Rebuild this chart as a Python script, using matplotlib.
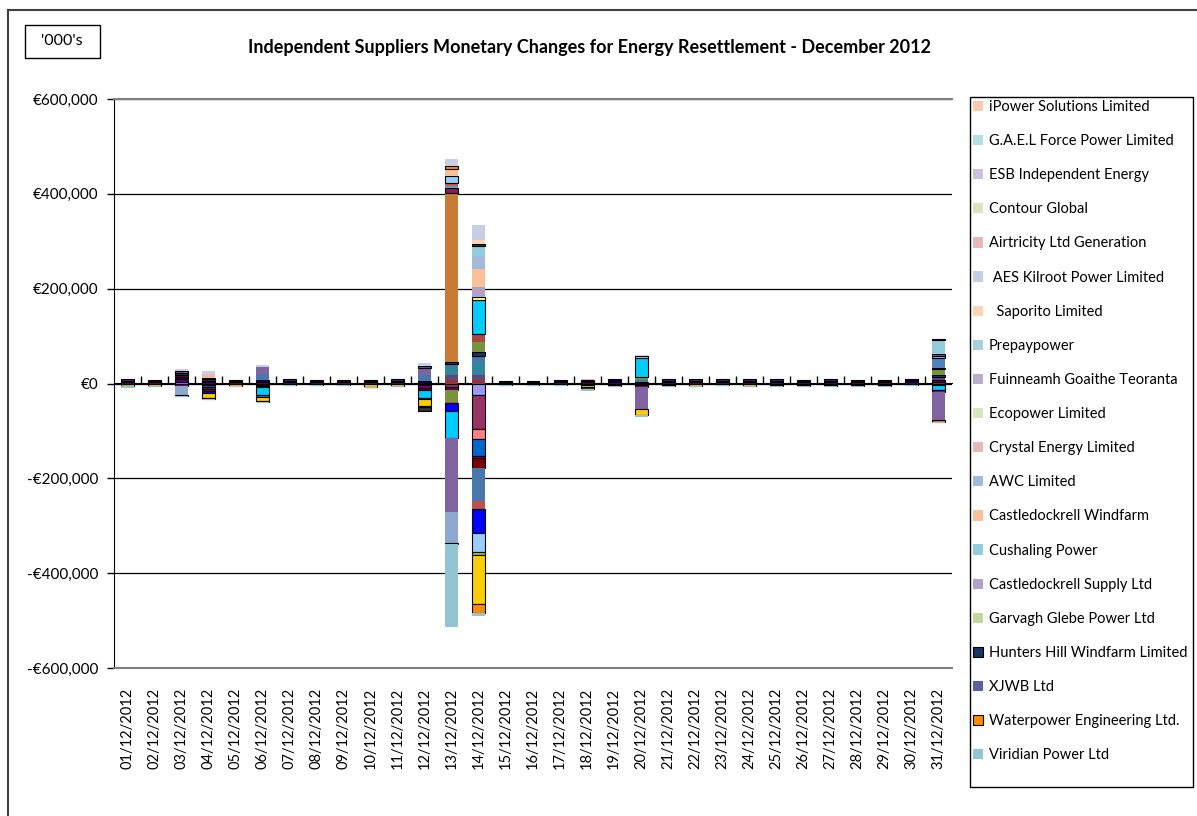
import matplotlib.pyplot as plt
import numpy as np
from matplotlib.patches import Rectangle
from matplotlib.lines import Line2D

plt.rcParams['font.family'] = ['Lato', 'DejaVu Sans']

days = ["%02d/12/2012" % d for d in range(1, 32)]

# values in thousands of euro, one list per series, stacked from zero outwards
#            01..10                          11..20                              21..31
lav9999    = [0, 0, 4, 0, 0, 0, 0, 0, 0, 0,   0, 0, -2, -25, 0, 0, 0, 0, 0, 0,   0, 0, 0, 0, 0, 0, 0, 0, 0, 0, 0]
rasp       = [0, 0, -2, -4, 0, -3, 0, 0, 0, 0,   0, 0, -5, -72, 0, 0, 0, 0, 0, -3,   0, 0, 0, 0, 0, 0, 0, 0, 0, 0, 3]
plum       = [3, 3, 5, 3, 3, 4, 3, 3, 3, 3,   3, 2, -7, 0, 2, 2, 3, 3, 3, 2,   3, 3, 3, 3, 3, 3, 3, 3, 3, 3, 5]
navy       = [3, 3, 5, 3, 3, 4, 3, 2, 2, 3,   3, 3, 0, 0, 2, 2, 2, 3, 4, 2,   3, 3, 3, 3, 3, 3, 3, 3, 3, 4, 0]
maroon     = [0, 0, 0, 0, 0, 0, 0, 0, 0, 0,   0, 0, 7, 8, 0, 0, 0, 0, 0, 0,   0, 0, 0, 0, 0, 0, 0, 0, 0, 0, 0]
dpurple    = [0, 0, 0, 0, 0, 0, 0, 0, 0, 0,   0, 0, 10, 9, 0, 0, 0, 0, 0, 0,   0, 0, 0, 0, 0, 0, 0, 0, 0, 0, 5]
pink       = [0, 0, 0, 0, 0, 0, 0, 0, 0, 0,   0, 0, 0, -21, 0, 0, 0, 0, 0, 0,   0, 0, 0, 0, 0, 0, 0, 0, 0, 0, 0]
midblue    = [0, 0, 0, -4, 0, 0, 0, 0, 0, 0,   0, -4, 0, -35, 0, 0, 0, 0, 0, 0,   0, 0, 0, 0, 0, 0, 0, 0, 0, 0, 0]
violet     = [0, 0, -3, -4, 0, -2, 0, 0, 0, 0,   0, -5, 0, -5, 0, 0, 0, -4, -1, -4,   -3, -2, 0, -2, -3, -3, -3, -3, -3, 0, -3]
darkred    = [0, 0, 4, -4, 0, 0, 0, 0, 0, 0,   0, -5, 0, -21, 0, 0, 0, 0, 0, 0,   -3, 0, 0, 0, -3, -3, -3, -2, -2, 0, 0]
teal       = [0, 0, 0, 0, 0, 0, 0, 0, 0, 0,   0, 0, 18, 28, 0, 0, 0, 0, 0, 0,   0, 0, 0, 0, 0, 0, 0, 0, 0, 0, 0]
steel      = [0, 0, 0, 0, 0, 12, 0, 0, 0, 0,   0, 13, 7, 14, 0, 0, 0, 0, 0, 4,   0, 0, 0, 0, 0, 0, 0, 0, 0, 0, 0]
steel_b    = [0, 0, 0, 0, 0, 0, 0, 0, 0, 0,   0, 0, 0, -68, 0, 0, 0, 0, 0, 0,   0, 0, 0, 0, 0, 0, 0, 0, 0, 0, 0]
hunters    = [3, 2, 5, 3, 2, 0, 3, 2, 2, 2,   3, 0, 4, 7, 2, 2, 2, 2, 3, 0,   3, 3, 3, 3, 3, 2, 3, 2, 2, 3, 4]
olive      = [0, 0, 0, 0, 0, 0, 0, 0, 0, 0,   0, 0, -24, 22, 0, 0, 0, 0, 0, 5,   0, 0, 0, 0, 0, 0, 0, 0, 0, 0, 13]
redbrown   = [0, 0, 0, 0, 0, 0, 0, 0, 0, 0,   0, 0, -4, -18, 0, 0, 0, 0, 0, 0,   0, 0, 0, 0, 0, 0, 0, 0, 0, 0, 0]
brick      = [0, 0, 0, 0, 0, 0, 0, 0, 0, 0,   0, 0, 0, 16, 0, 0, 0, 0, 0, 0,   0, 0, 0, 0, 0, 0, 0, 0, 0, 0, 0]
blue       = [0, 0, 0, -3, 0, -2, 0, 0, 0, 0,   0, 0, -17, -50, 0, 0, 0, 0, 0, 0,   0, 0, 0, 0, 0, 0, 0, 0, 0, 0, 3]
cyan       = [0, 0, 0, 2, 0, -17, 0, 0, 0, 0,   0, -17, -56, 72, 0, 0, 0, 0, 0, 40,   0, 0, 0, 0, 0, 0, 0, 0, 0, 0, -11]
steel2     = [0, 0, 0, 0, 0, 0, 0, 0, 0, 0,   0, 0, 0, 0, 0, 0, 0, 0, 0, 0,   0, 0, 0, 0, 0, 0, 0, 0, 0, 0, 20]
orange     = [0, 0, 0, 0, 0, 0, 0, 0, 0, 0,   0, 0, 355, 0, 0, 0, 0, 0, 0, 0,   0, 0, 0, 0, 0, 0, 0, 0, 0, 0, 0]
magenta    = [0, 0, 0, 0, 0, 0, 0, 0, 0, 0,   0, 0, 12, 0, 0, 0, 0, 0, 0, 0,   0, 0, 0, 0, 0, 0, 0, 0, 0, 0, -3]
teal2      = [0, 0, 0, 0, 0, 0, 0, 0, 0, 0,   0, 0, 4, 0, 0, 0, 0, 0, 0, 0,   0, 0, 0, 0, 0, 0, 0, 0, 0, 0, 0]
red2       = [0, 0, 0, 0, 0, 0, 0, 0, 0, 0,   0, 0, 5, 0, 0, 0, 0, 0, 0, 0,   0, 0, 0, 0, 0, 0, 0, 0, 0, 0, 0]
skyblue    = [0, 0, 0, 0, 0, 0, 0, 0, 0, 0,   0, 0, 15, -41, 0, 0, 0, 0, 0, 4,   0, 0, 0, 0, 0, 0, 0, 0, 0, 0, 6]
paleyellow = [0, 0, 0, 0, 0, 0, 0, 0, 0, 0,   0, 0, 0, 7, 0, 0, 0, 0, 0, 0,   0, 0, 0, 0, 0, 0, 0, 0, 0, 0, 0]
purple     = [0, 0, 0, 0, 0, 15, 0, 0, 0, 0,   0, 14, -157, 0, 0, 0, 0, 0, 0, -47,   0, 0, 0, 0, 0, 0, 0, 0, 0, 0, -61]
periwinkle = [0, 0, -20, 0, 0, 0, 0, 0, 0, 0,   0, 0, -65, 0, 0, 0, 0, 0, 0, 0,   0, 0, 0, 0, 0, 0, 0, 0, 0, 0, 0]
xjwb       = [0, 0, 4, 0, 0, -5, 0, 0, 0, 0,   0, 4, -2, 0, 0, 0, 0, 0, 0, 0,   0, 0, 0, 0, 0, 0, 0, 0, 0, 0, 3]
lime       = [0, 0, 0, 0, 0, 0, 0, 0, 0, 0,   0, -2, 0, -5, 0, 0, 0, 0, 0, 0,   0, 0, 0, 0, 0, 0, 0, 0, 0, 0, 0]
gold       = [-5, -5, 0, -12, -5, -8, -3, -4, -4, -7,   -5, -14, 0, -104, -3, -3, -4, -4, -3, -13,   0, -3, -4, -3, 0, 0, 0, 0, 0, -3, 0]
cd_supply  = [0, 0, 0, 0, 0, 0, 0, 0, 0, 0,   0, 0, 0, 20, 0, 0, 0, 0, 0, 0,   0, 0, 0, 0, 0, 0, 0, 0, 0, 0, 0]
cd_wind    = [0, 0, 0, 3, 0, 0, 0, 0, 0, 0,   0, 0, 15, 39, 0, 0, 0, 0, 0, 0,   0, 0, 0, 0, 0, 0, 0, 0, 0, 0, 0]
waterpower = [-1, 0, -1, -2, 0, -1, 0, 0, 0, -1,   0, -2, 6, -20, 0, 0, 0, 0, -1, 0,   0, 0, 0, 0, 0, 0, 0, 0, 0, 0, -3]
awc        = [0, 0, 0, 0, 0, 0, 0, 0, 0, 0,   0, 0, 0, 26, 0, 0, 0, 0, 0, 0,   0, 0, 0, 0, 0, 0, 0, 0, 0, 0, 0]
cushaling  = [0, 0, 0, 0, 0, 0, 0, 0, 0, 0,   0, 0, 0, 23, 0, 0, 0, 0, 0, 0,   0, 0, 0, 0, 0, 0, 0, 0, 0, 0, 30]
charcoal   = [0, 0, 0, 0, 0, 0, 0, 0, 0, 0,   0, -8, 0, 3, 0, 0, 0, -4, 0, 0,   0, 0, 0, 0, 0, 0, 0, 0, 0, 0, 2]
saporito   = [0, 0, 0, 0, 0, 0, 0, 0, 0, 0,   0, 0, 0, 8, 0, 0, 0, 0, 0, 0,   0, 0, 0, 0, 0, 0, 0, 0, 0, 0, 0]
airtricity = [0, 0, 0, 5, -2, 0, 0, 0, 0, 0,   0, 0, 0, 0, 0, 0, 0, 2, 0, 0,   0, 0, 0, 0, 0, 0, 0, 0, 0, 0, 0]
aes        = [0, 0, 4, 7, 0, 3, 0, 0, 0, 0,   0, 8, 16, 33, 0, 0, 0, 0, 0, 3,   0, 0, 0, 0, 0, 0, 0, 0, 0, 0, 0]
viridian   = [-3, -2, -2, -2, 0, -3, -2, -2, -2, -2,   -2, -2, -175, -5, -2, -2, -2, -4, -2, -4,   -2, -2, -2, -2, -2, -2, -2, -2, -2, -2, -3]
no_change  = [0, 0, 0, 0, 0, 0, 0, 0, 0, 0,   0, 0, 0, 0, 0, 0, 0, 0, 0, 0,   0, 0, 0, 0, 0, 0, 0, 0, 0, 0, 0]

# (label, colour, black border, values) in stacking order
series = [
    (None, '#9999FF', True, lav9999),
    (None, '#993366', True, rasp),
    (None, '#660066', True, plum),
    (None, '#000080', True, navy),
    (None, '#953735', False, maroon),
    (None, '#5F497A', False, dpurple),
    (None, '#FF8080', True, pink),
    (None, '#0066CC', True, midblue),
    (None, '#800080', True, violet),
    (None, '#800000', True, darkred),
    (None, '#31859C', False, teal),
    (None, '#4A76AE', False, steel),
    (None, '#4A76AE', False, steel_b),
    ('Hunters Hill Windfarm Limited', '#17375E', True, hunters),
    (None, '#77933C', False, olive),
    (None, '#C0504D', False, redbrown),
    (None, '#A8463F', False, brick),
    (None, '#0000FF', True, blue),
    (None, '#00CCFF', True, cyan),
    (None, '#4F81BD', False, steel2),
    (None, '#C87B35', False, orange),
    (None, '#8B1A5E', True, magenta),
    (None, '#4BACC6', False, teal2),
    (None, '#D9534F', False, red2),
    (None, '#99CCFF', True, skyblue),
    (None, '#FFFF99', True, paleyellow),
    (None, '#8064A2', False, purple),
    (None, '#8EA9D0', False, periwinkle),
    ('XJWB Ltd', '#5F5F9F', True, xjwb),
    (None, '#99CC00', True, lime),
    (None, '#FFCC00', True, gold),
    ('Castledockrell Supply Ltd', '#B3A2C7', False, cd_supply),
    ('Castledockrell Windfarm', '#FAC09A', False, cd_wind),
    ('Waterpower Engineering Ltd.', '#FF8C00', True, waterpower),
    ('AWC Limited', '#A3BADB', False, awc),
    ('Cushaling Power', '#92CDDC', False, cushaling),
    (None, '#333333', True, charcoal),
    ('  Saporito Limited', '#FCD5B4', False, saporito),
    ('Airtricity Ltd Generation', '#E6B9B8', False, airtricity),
    (' AES Kilroot Power Limited', '#C5D0E6', False, aes),
    ('iPower Solutions Limited', '#F8CBAD', False, no_change),
    ('G.A.E.L Force Power Limited', '#B7DEE8', False, no_change),
    ('ESB Independent Energy', '#CCC0DA', False, no_change),
    ('Contour Global', '#D7E4BD', False, no_change),
    ('Prepaypower', '#A8CFDC', False, no_change),
    ('Fuinneamh Goaithe Teoranta', '#B9ADCE', False, no_change),
    ('Ecopower Limited', '#D7E4BD', False, no_change),
    ('Crystal Energy Limited', '#E6B9B8', False, no_change),
    ('Garvagh Glebe Power Ltd', '#C4D79B', False, no_change),
    ('Viridian Power Ltd', '#93C4D4', False, viridian),
]

legend_order = ['iPower Solutions Limited', 'G.A.E.L Force Power Limited', 'ESB Independent Energy',
                'Contour Global', 'Airtricity Ltd Generation', ' AES Kilroot Power Limited',
                '  Saporito Limited', 'Prepaypower', 'Fuinneamh Goaithe Teoranta', 'Ecopower Limited',
                'Crystal Energy Limited', 'AWC Limited', 'Castledockrell Windfarm', 'Cushaling Power',
                'Castledockrell Supply Ltd', 'Garvagh Glebe Power Ltd', 'Hunters Hill Windfarm Limited',
                'XJWB Ltd', 'Waterpower Engineering Ltd.', 'Viridian Power Ltd']

W, H = 1197, 816
fig = plt.figure(figsize=(W / 100, H / 100), dpi=100)
ax = fig.add_axes([114 / W, 1 - 668 / H, (952 - 114) / W, (668 - 99) / H])

x = np.arange(len(days))
pos_base = np.zeros(len(days))
neg_base = np.zeros(len(days))
handles = {}
for label, color, edged, vals in series:
    v = np.array(vals, dtype=float) * 1000
    bottom = np.where(v >= 0, pos_base, neg_base)
    lw = np.where(v != 0, 0.8, 0) if edged else 0
    bars = ax.bar(x, v, width=0.48, bottom=bottom, color=color,
                  edgecolor='black' if edged else 'none', linewidth=lw, zorder=3)
    pos_base += np.clip(v, 0, None)
    neg_base += np.clip(v, None, 0)
    if label:
        handles[label] = bars

ax.set_xlim(-0.5, len(days) - 0.5)
ax.set_ylim(-600000, 600000)
yt = np.arange(-600000, 600001, 200000)
ax.set_yticks(yt, [("-€{:,}" if t < 0 else "€{:,}").format(abs(t)) for t in yt], fontsize=11)
ax.yaxis.grid(True, color='black', linewidth=0.9)
ax.set_axisbelow(True)
ax.tick_params(axis='y', direction='out', length=5, width=1, pad=6)
ax.set_xticks(x, days, rotation=90, fontsize=10.5)
ax.tick_params(axis='x', length=0, pad=14)
for s in ['top', 'bottom']:
    ax.spines[s].set_color('#808080')
    ax.spines[s].set_linewidth(1.5)
ax.spines['right'].set_visible(False)
ax.spines['left'].set_color('black')

# category axis crossing at zero, tick marks between days
cat = ax.secondary_xaxis(0.5)
cat.set_xticks(np.arange(1, len(days)) - 0.5, [])
cat.tick_params(direction='out', length=5, width=1, color='black')
cat.spines['bottom'].set_color('black')
cat.spines['bottom'].set_linewidth(1.2)

fig.text(589 / W, 1 - 48 / H, 'Independent Suppliers Monetary Changes for Energy Resettlement - December 2012',
         ha='center', va='center', fontsize=13, fontweight='bold')
fig.add_artist(Rectangle((25 / W, 1 - 58 / H), 75 / W, 33 / H, transform=fig.transFigure,
                         fill=False, edgecolor='black', linewidth=1))
fig.text(62 / W, 1 - 41 / H, "'000's", ha='center', va='center', fontsize=11.5)

# outer chart border
fig.add_artist(Line2D([8 / W, 1], [1 - 10 / H, 1 - 10 / H], color='#404040', linewidth=1.5))
fig.add_artist(Line2D([8 / W, 8 / W], [0, 1 - 10 / H], color='#404040', linewidth=1.5))

# legend box
fig.add_artist(Rectangle((970 / W, 1 - 787 / H), 223 / W, 690 / H, transform=fig.transFigure,
                         fill=False, edgecolor='black', linewidth=1))
fig.legend([handles[n] for n in legend_order], legend_order, loc='upper left',
           bbox_to_anchor=(973 / W, 1 - 100 / H), frameon=False, fontsize=10.5,
           handlelength=0.7, handleheight=0.7, handletextpad=0.4,
           labelspacing=1.38, borderpad=0, borderaxespad=0)

fig.savefig('out.png', dpi=100)
